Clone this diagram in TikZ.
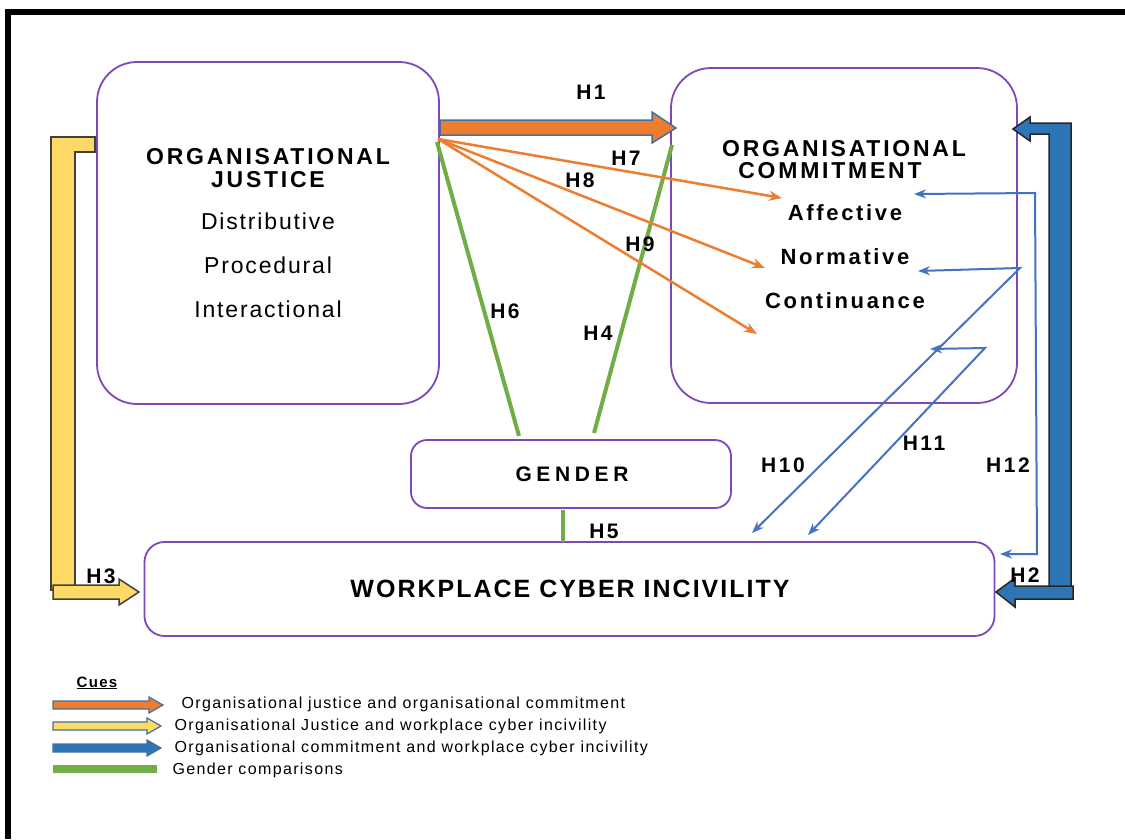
\documentclass[tikz,border=0pt]{standalone}
\usepackage{fontspec}
\setmainfont{Liberation Sans}
\newfontfamily\spA[LetterSpace=12]{Liberation Sans}
\newfontfamily\spB[LetterSpace=8]{Liberation Sans}
\newfontfamily\spC[LetterSpace=8]{Liberation Sans}
\newfontfamily\spG[LetterSpace=22]{Liberation Sans}
\newfontfamily\spL[LetterSpace=8.5]{Liberation Sans}
\usetikzlibrary{arrows.meta}
\definecolor{boxpurple}{HTML}{7E48B8}
\definecolor{ora}{HTML}{ED7D31}
\definecolor{oraedge}{HTML}{41719C}
\definecolor{gold}{HTML}{FFD966}
\definecolor{dblue}{HTML}{2E75B6}
\definecolor{lblue}{HTML}{4472C4}
\definecolor{grn}{HTML}{70AD47}
\tikzset{
  box/.style={draw=boxpurple, line width=1.8pt, fill=white, inner sep=0pt},
  bigt/.style={font=\spA\bfseries\fontsize{23}{27}\selectfont, anchor=base},
  subt/.style={font=\spB\fontsize{23}{27}\selectfont, anchor=base},
  comt/.style={font=\spA\bfseries\fontsize{22}{26}\selectfont, anchor=base},
  hl/.style={font=\spA\bfseries\fontsize{21}{25}\selectfont, anchor=base},
  legt/.style={font=\spL\fontsize{16}{19}\selectfont, anchor=base west},
  orline/.style={draw=ora, line width=2.5pt, -{Stealth[length=13pt,width=10pt]}},
  blline/.style={draw=lblue, line width=2pt, {Stealth[length=12pt,width=9pt]}-{Stealth[length=12pt,width=9pt]}},
  grline/.style={draw=grn, line width=4pt},
  fatora/.style={fill=ora, draw=oraedge, line width=1.5pt},
  fatgold/.style={fill=gold, draw=black!75, line width=1.5pt},
  fatblue/.style={fill=dblue, draw=black!85, line width=1.5pt},
  legora/.style={fill=ora, draw=oraedge, line width=1.2pt},
  leggold/.style={fill=gold, draw=oraedge, line width=1.2pt},
  legblue/.style={fill=dblue, draw=oraedge, line width=1.2pt},
}
\begin{document}
\begin{tikzpicture}[x=1pt,y=-1pt]
\useasboundingbox (0,0) rectangle (1125,839);
% frame
\fill[black] (5,9) rectangle (1125,15);
\fill[black] (5,9) rectangle (11,839);

% boxes
\node[box, minimum width=342pt, minimum height=342pt, rounded corners=40pt] (oj) at (268,233) {};
\node[box, minimum width=346pt, minimum height=335pt, rounded corners=40pt] (oc) at (844,235.5) {};
\node[box, minimum width=320pt, minimum height=68pt, rounded corners=16pt] (gender) at (571,474) {};
\node[box, minimum width=850pt, minimum height=94pt, rounded corners=20pt] (wci) at (569.5,589) {};

% texts in boxes
\node[bigt] (ojt1) at (268,164) {ORGANISATIONAL};
\node[bigt] (ojt2) at (268,187) {JUSTICE};
\node[subt] (dist) at (268,229.5) {Distributive};
\node[subt] (proc) at (268,273.5) {Procedural};
\node[subt] (inter) at (268,317.5) {Interactional};
\node[bigt] (oct1) at (844,156) {ORGANISATIONAL};
\node[bigt] (oct2) at (830,178) {COMMITMENT};
\node[comt] (aff) at (845,220.5) {Affective};
\node[comt] (norm) at (845,264.5) {Normative};
\node[comt] (cont) at (845,308.5) {Continuance};
\node[font=\spG\bfseries\fontsize{21}{25}\selectfont, anchor=base] (gt) at (572,481.5) {GENDER};
\node[font=\spC\bfseries\fontsize{25}{30}\selectfont, anchor=base] (wt) at (570,597.5) {WORKPLACE CYBER INCIVILITY};

% coordinates
\coordinate (ojsrc) at (438,139);
\coordinate (h7e) at (782,198);
\coordinate (h8e) at (765,268);
\coordinate (h9e) at (757,334);
\coordinate (g6s) at (437,142);
\coordinate (g6e) at (519,436);
\coordinate (g4s) at (672,145);
\coordinate (g4e) at (594,433);
\coordinate (g5s) at (563,510);
\coordinate (g5e) at (563,542);
\coordinate (b12a) at (914,194);
\coordinate (b12b) at (1000,554);
\coordinate (b10a) at (918,271);
\coordinate (b10b) at (752,533);
\coordinate (b11a) at (930,349);
\coordinate (b11b) at (808,535);

% green gender lines
\draw[grline] (g6s) -- (g6e);
\draw[grline] (g4s) -- (g4e);
\draw[grline] (g5s) -- (g5e);

% orange thin arrows
\draw[orline] (ojsrc) -- (h7e);
\draw[orline] (ojsrc) -- (h8e);
\draw[orline] (ojsrc) -- (h9e);

% blue thin arrows
\draw[blline] (b12a) -- (1035,193) -- (1037,554) -- (b12b);
\draw[blline] (b10a) -- (1020,268) -- (b10b);
\draw[blline] (b11a) -- (985,348) -- (b11b);

% H1 fat arrow
\draw[fatora] (440,120) -- (652,120) -- (652,112) -- (676,128) -- (652,143) -- (652,135) -- (440,135) -- cycle;

% H3 yellow bent arrow
\draw[fatgold] (95,137) -- (51,137) -- (51,590) -- (75,590) -- (75,152) -- (95,152) -- cycle;
\draw[fatgold] (53,585) -- (119,585) -- (119,579) -- (139,592) -- (119,605) -- (119,599) -- (53,599) -- cycle;

% H2 blue bent arrow
\draw[fatblue] (1071,123) -- (1030,123) -- (1030,117) -- (1013,129) -- (1030,141) -- (1030,134) -- (1049,134) -- (1049,587) -- (1071,587) -- cycle;
\draw[fatblue] (1073,586) -- (1015,586) -- (1015,578) -- (996,592) -- (1015,607) -- (1015,599) -- (1073,599) -- cycle;

% H labels
\node[hl] (lh1) at (591,99.5) {H1};
\node[hl] (lh7) at (626,165.5) {H7};
\node[hl] (lh8) at (580,187.5) {H8};
\node[hl] (lh9) at (640,251.5) {H9};
\node[hl] (lh6) at (505,318.5) {H6};
\node[hl] (lh4) at (598,340.5) {H4};
\node[hl] (lh5) at (604,538.5) {H5};
\node[hl] (lh10) at (783,472.5) {H10};
\node[hl] (lh11) at (924,450.5) {H11};
\node[hl] (lh12) at (1008,472.5) {H12};
\node[hl] (lh3) at (101,583.5) {H3};
\node[hl] (lh2) at (1025,582.5) {H2};

% legend
\node[font=\spL\bfseries\fontsize{15}{18}\selectfont, anchor=base] (cues) at (97,687) {\underline{Cues}};
\draw[legora] (53,701) -- (149,701) -- (149,697) -- (163,705) -- (149,713) -- (149,709) -- (53,709) -- cycle;
\draw[leggold] (53,722) -- (147,722) -- (147,718) -- (161,726) -- (147,734) -- (147,730) -- (53,730) -- cycle;
\draw[legblue] (53,744) -- (147,744) -- (147,740) -- (161,748) -- (147,756) -- (147,752) -- (53,752) -- cycle;
\fill[grn] (53,765) rectangle (157,773);
\node[legt] (l1) at (178,708.5) {Organisational justice and organisational commitment};
\node[legt] (l2) at (171,730.5) {Organisational Justice and workplace cyber incivility};
\node[legt] (l3) at (171,752.5) {Organisational commitment and workplace cyber incivility};
\node[legt] (l4) at (169,774.5) {Gender comparisons};
\end{tikzpicture}
\end{document}
